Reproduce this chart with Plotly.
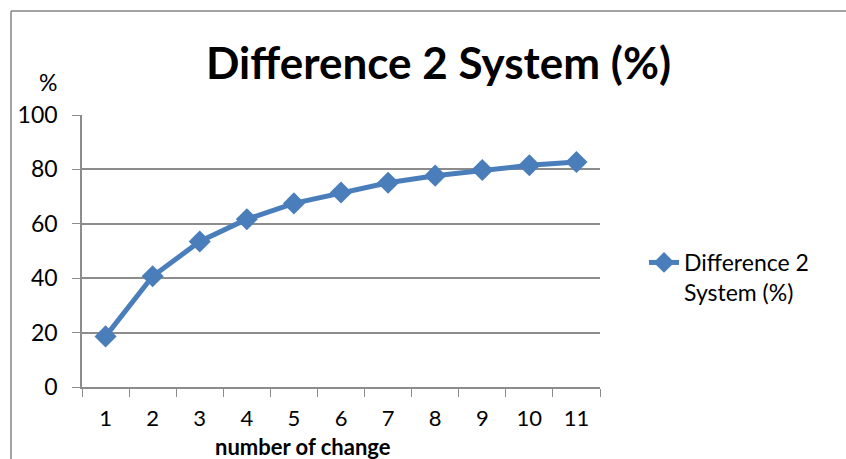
import plotly.graph_objects as go

# Percentage difference between the two systems per number of changes
changes = ["1", "2", "3", "4", "5", "6", "7", "8", "9", "10", "11"]
difference = [18.6, 40.7, 53.5, 61.7, 67.5, 71.5, 75.1, 77.7, 79.8, 81.5, 82.7]

series_name = "Difference 2<br>System (%)"
chart_title = "Difference 2 System (%)"
x_title = "number of change"
y_title = "%"

W, H = 846, 459
L, R, T, B = 82, 246, 115, 72
pw, ph = W - L - R, H - T - B


def px_x(x):
    return (x - L) / pw


def px_y(y):
    return (H - B - y) / ph


blue = "#4A7EBB"
grid = "#8C8C8C"
frame = "#868686"
font = "Lato"
fs = 23

fig = go.Figure()
fig.add_trace(go.Scatter(
    x=changes, y=difference, name=series_name, mode="lines+markers",
    line=dict(color=blue, width=5),
    marker=dict(symbol="diamond", size=17, color=blue),
))

fig.update_layout(
    width=W, height=H,
    margin=dict(l=L, r=R, t=T, b=B, pad=0),
    paper_bgcolor="white", plot_bgcolor="white",
    font=dict(family=font, size=fs, color="black"),
    showlegend=True,
    legend=dict(x=px_x(644), y=px_y(241), xanchor="left", yanchor="top",
                valign="top", font=dict(size=fs),
                bgcolor="rgba(0,0,0,0)"),
    xaxis=dict(type="category", range=[-0.5, 10.5], tickson="boundaries",
               ticks="outside", ticklen=8, tickcolor=grid, showline=True,
               linecolor=grid, linewidth=1.5, showgrid=False, zeroline=False,
               ticklabelstandoff=11, tickfont=dict(size=22)),
    yaxis=dict(range=[0, 100], dtick=20, ticks="outside", ticklen=8,
               tickcolor=grid, showline=True, linecolor=grid, linewidth=1.5,
               showgrid=True, gridcolor=grid, gridwidth=1.5, zeroline=False,
               ticklabelstandoff=10, tickfont=dict(size=fs)),
    shapes=[
        dict(type="line", xref="paper", yref="paper",
             x0=px_x(11), x1=px_x(11), y0=px_y(470), y1=px_y(11),
             line=dict(color=frame, width=1.5), layer="below"),
        dict(type="line", xref="paper", yref="paper",
             x0=px_x(11), x1=px_x(860), y0=px_y(11), y1=px_y(11),
             line=dict(color=frame, width=1.5), layer="below"),
    ],
    annotations=[
        dict(text="<b>%s</b>" % chart_title, xref="paper", yref="paper",
             x=px_x(438), y=px_y(62), xanchor="center", yanchor="middle",
             showarrow=False, font=dict(size=44)),
        dict(text=y_title, xref="paper", yref="paper", x=px_x(48),
             y=px_y(82), xanchor="center", yanchor="middle",
             showarrow=False, font=dict(size=fs)),
        dict(text="<b>%s</b>" % x_title, xref="paper", yref="paper",
             x=px_x(303), y=px_y(446), xanchor="center", yanchor="middle",
             showarrow=False, font=dict(size=22)),
    ],
)

fig.write_html("out.html", config=dict(displayModeBar=False))
